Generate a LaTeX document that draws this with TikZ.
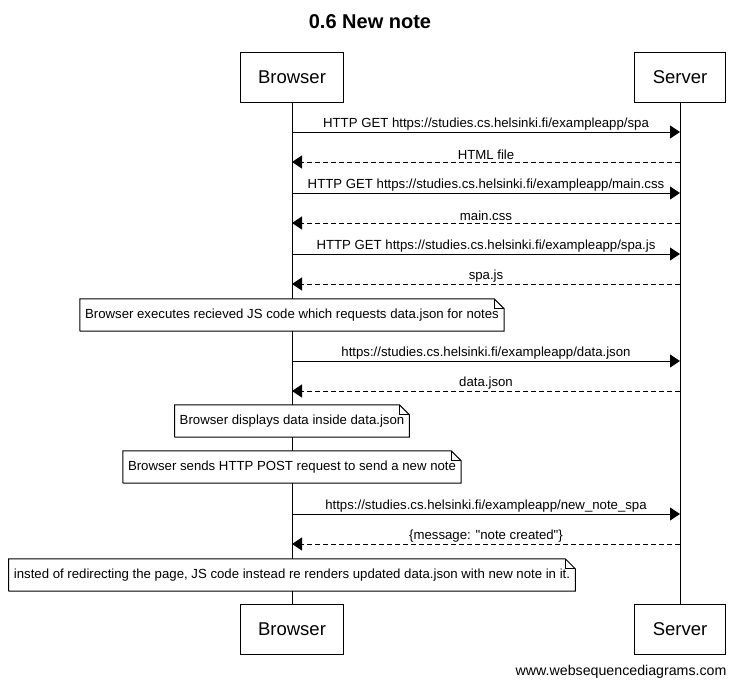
\documentclass[tikz,border=0pt]{standalone}
\usepackage{fontspec}
\setmainfont{Liberation Sans}[Ligatures=TeXOff]
\usetikzlibrary{arrows.meta,positioning}

\tikzset{
  actor/.style={draw, line width=1pt, fill=white, inner xsep=18pt, minimum height=50pt,
    font=\fontsize{18.5}{22}\selectfont},
  msgtext/.style={font=\fontsize{13.2}{15}\selectfont, above, inner sep=1.5pt},
  notebox/.style={fill=white, inner xsep=5pt, minimum height=32pt,
    font=\fontsize{13.2}{15}\selectfont},
  call/.style={-{Triangle[length=10pt,width=13pt]}, line width=1pt},
  reply/.style={call, dash pattern=on 5pt off 3pt},
}

\begin{document}
\begin{tikzpicture}[x=1pt, y=-1pt]
\useasboundingbox (0,0) rectangle (739,688);

\node [font=\fontsize{20}{24}\selectfont\bfseries] (title) at (370,22) {0.6 New note};

% lifelines
\foreach \m/\x in {Browser/292, Server/680} {
  \node [actor] (\m-top) at (\x,77) {\m};
  \node [actor] (\m-bot) at (\x,629) {\m};
  \draw [line width=1pt] (\m-top) -- (\m-bot);
}

% requests
\foreach \y/\t [count=\i] in {
    132/{HTTP GET https://studies.cs.helsinki.fi/exampleapp/spa},
    193/{HTTP GET https://studies.cs.helsinki.fi/exampleapp/main.css},
    254/{HTTP GET https://studies.cs.helsinki.fi/exampleapp/spa.js},
    361/{https://studies.cs.helsinki.fi/exampleapp/data.json},
    514/{https://studies.cs.helsinki.fi/exampleapp/new\_note\_spa}} {
  \coordinate (req-\i-b) at (Browser-top |- 0,\y);
  \coordinate (req-\i-s) at (Server-top |- 0,\y);
  \draw [call] (req-\i-b) -- (req-\i-s)
    node [msgtext, midway] {\t};
}

% responses
\foreach \y/\t [count=\i] in {
    162/{HTML file},
    223/{main.css},
    284/{spa.js},
    391/{data.json},
    544/{\{message: "note created"\}}} {
  \coordinate (res-\i-s) at (Server-top |- 0,\y);
  \coordinate (res-\i-b) at (Browser-top |- 0,\y);
  \draw [reply] (res-\i-s) -- (res-\i-b)
    node [msgtext, midway] {\t};
}

% notes
\foreach \y/\t [count=\i] in {
    315/{Browser executes recieved JS code which requests data.json for notes},
    421/{Browser displays data inside data.json},
    467/{Browser sends HTTP POST request to send a new note},
    575/{insted of redirecting the page, JS code instead re renders updated data.json with new note in it.}} {
  \node [notebox] (note-\i) at (Browser-top |- 0,\y) {\t};
  \draw [line width=1pt] (note-\i.south west) |- ([xshift=-10pt]note-\i.north east)
    -- ([yshift=-10pt]note-\i.north east) |- (note-\i.south west);
  \draw [line width=1pt] ([xshift=-10pt]note-\i.north east) |- ([yshift=-10pt]note-\i.north east);
}

\node [anchor=east, font=\fontsize{14.2}{16}\selectfont] (credit) at (730,672) {www.websequencediagrams.com};

\end{tikzpicture}
\end{document}
